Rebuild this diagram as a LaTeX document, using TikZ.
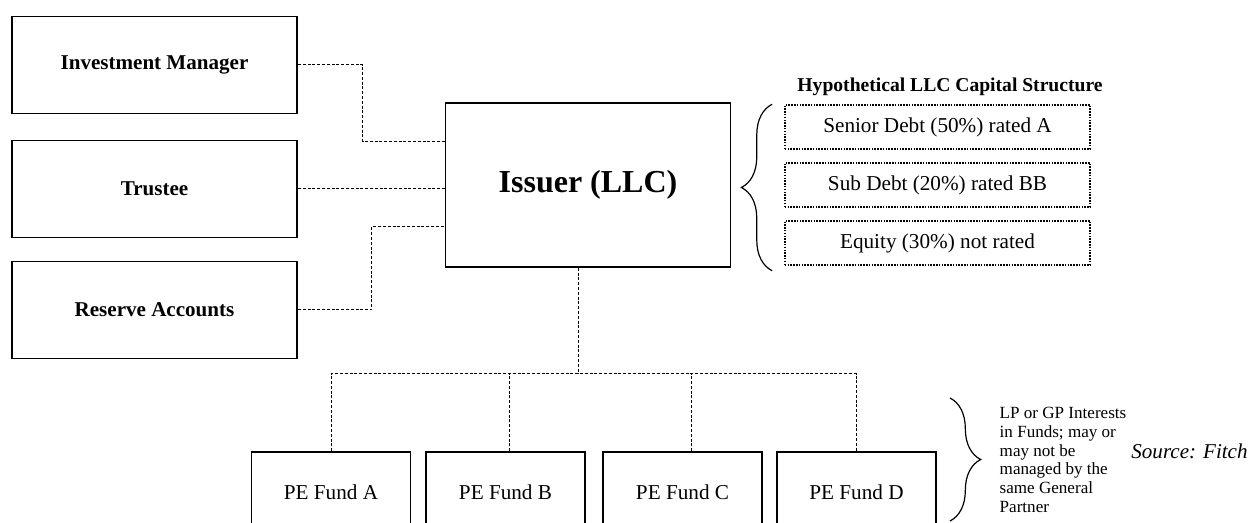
\documentclass[tikz,border=0pt]{standalone}
\usepackage{fontspec}
\setmainfont{Liberation Serif}
\usetikzlibrary{calc,decorations.pathreplacing}

\begin{document}
\begin{tikzpicture}[x=0.75pt,y=-0.75pt,
    party/.style={draw,line width=1.2pt,minimum width=214pt,minimum height=73pt,
      font=\bfseries\fontsize{15.8}{18}\selectfont},
    issuer/.style={draw,line width=1.2pt,minimum width=214pt,minimum height=123pt,
      font=\bfseries\fontsize{24}{28}\selectfont},
    fund/.style={draw,line width=1.2pt,minimum width=119pt,minimum height=60pt,
      font=\fontsize{15.9}{18}\selectfont},
    tranche/.style={draw,densely dotted,line width=1.1pt,minimum width=229pt,minimum height=33pt,
      font=\fontsize{15.9}{18}\selectfont},
    link/.style={dash pattern=on 2.2pt off 1.4pt,line width=0.75pt},
    curly/.style={decorate,decoration={brace,amplitude=23pt},line width=0.9pt}]
	\clip (0,0) rectangle (1252,523);
	\useasboundingbox (0,0) rectangle (1252,523);
	% parties on the left
	\node[party] (im) at (154.5,65) {Investment Manager};
	\node[party] (tr) at (154.5,189) {Trustee};
	\node[party] (ra) at (154.5,310) {Reserve Accounts};
	\node[issuer] (iss) at (588,185) {Issuer (LLC)};
	% capital structure
	\node[font=\bfseries\fontsize{14.7}{17}\selectfont] (title) at (950,87) {Hypothetical LLC Capital Structure};
	\foreach \n/\y/\t in {t1/127/Senior Debt (50\%) rated A,
	                      t2/185/Sub Debt (20\%) rated BB,
	                      t3/243/Equity (30\%) not rated}
	  \node[tranche] (\n) at (937.5,\y) {\t};
	\draw[curly] ($(t3.south west)+(-12,5)$) -- ($(t1.north west)+(-12,0)$);
	% funds
	\foreach \n/\x/\l in {fa/331/A,fb/505.5/B,fc/682.5/C,fd/856.5/D}
	  \node[fund] (\n) at (\x,492) {PE Fund \l};
	\draw[curly] (950,398) -- (950,521);
	\node[anchor=west,align=left,font=\fontsize{12.8}{14}\selectfont] (note) at (995,460)
	  {LP or GP Interests\\in Funds; may or\\may not be\\managed by the\\same General\\Partner};
	\node[font=\itshape\fontsize{15.8}{18}\selectfont] (src) at (1189.5,451) {Source: Fitch};
	% links
	\draw[link] (im.east) -- ++(65,0) |- ($(iss.west)+(0,-43)$);
	\draw[link] (tr.east) -- (tr.east -| iss.west);
	\draw[link] (ra.east) -- ++(74,0) |- ($(iss.west)+(0,42)$);
	\draw[link] ($(iss.south)+(-10,0)$) -- ++(0,106) coordinate (bus);
	\draw[link] (fa.north) |- (bus) -| (fd.north);
	\foreach \n/\dx in {fb/3.5,fc/8.5}
	  \draw[link] ($(\n.north)+(\dx,0)$) -- ($(\n.north |- bus)+(\dx,0)$);
\end{tikzpicture}
\end{document}
